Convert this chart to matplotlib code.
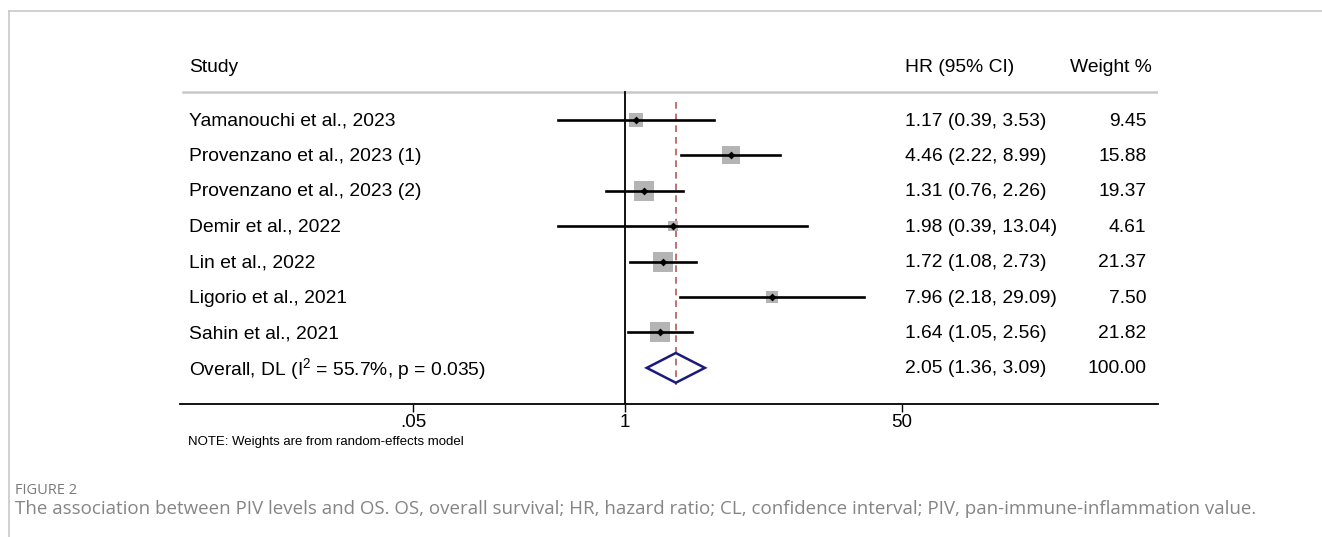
import numpy as np
import matplotlib
matplotlib.use('Agg')
import matplotlib.pyplot as plt
from matplotlib.lines import Line2D
from matplotlib.patches import Polygon

plt.rcParams['font.family'] = 'Liberation Sans'
plt.rcParams['mathtext.fontset'] = 'custom'
plt.rcParams['mathtext.rm'] = 'Liberation Sans'
plt.rcParams['mathtext.it'] = 'Liberation Sans'

# Dados do forest plot
estudos = ['Yamanouchi et al., 2023', 'Provenzano et al., 2023 (1)', 'Provenzano et al., 2023 (2)',
           'Demir et al., 2022', 'Lin et al., 2022', 'Ligorio et al., 2021', 'Sahin et al., 2021']
hr = [1.17, 4.46, 1.31, 1.98, 1.72, 7.96, 1.64]
ic_inf = [0.39, 2.22, 0.76, 0.39, 1.08, 2.18, 1.05]
ic_sup = [3.53, 8.99, 2.26, 13.04, 2.73, 29.09, 2.56]
pesos = [9.45, 15.88, 19.37, 4.61, 21.37, 7.50, 21.82]

overall_label = 'Overall, DL (I$^2$ = 55.7%, p = 0.035)'
overall_hr, overall_inf, overall_sup, overall_peso = 2.05, 1.36, 3.09, 100.00

ticks = [0.05, 1, 50]
tick_labels = ['.05', '1', '50']

W, H = 1322, 537
fig = plt.figure(figsize=(W / 100, H / 100), dpi=100)

# eixo em pixels: x 180..1158, y 30..404
ax = fig.add_axes([180 / W, (H - 404) / H, 978 / W, (404 - 30) / H])
ax.set_xscale('log')
ax.set_xlim(10 ** ((180 - 625) / 163.0), 10 ** ((1158 - 625) / 163.0))
ax.set_ylim(8.02, -2.54)
for s in ['top', 'left', 'right']:
    ax.spines[s].set_visible(False)
ax.spines['bottom'].set_linewidth(1.3)
ax.set_yticks([])
ax.set_xticks(ticks)
ax.set_xticklabels(tick_labels, fontsize=13.5)
ax.minorticks_off()
ax.tick_params(axis='x', length=6, width=1, pad=1)

fs = 13.9
n = len(estudos)
y = np.arange(n)
tr = ax.get_yaxis_transform()
dy = 0.03  # pequeno ajuste vertical do texto

# cabeçalho
ax.text(0.0092, -1.52 + dy, 'Study', transform=tr, fontsize=fs, va='center')
ax.text(0.741, -1.52 + dy, 'HR (95% CI)', transform=tr, fontsize=fs, va='center')
ax.text(0.994, -1.52 + dy, 'Weight %', transform=tr, fontsize=fs, va='center', ha='right')
ax.plot([0.003, 1.0], [-0.79, -0.79], transform=tr, color='#c8c8c8', lw=1.8)

# linha de nulidade e linha do efeito global
ax.plot([1, 1], [-0.79, 8.02], color='black', lw=1.3)
ax.plot([overall_hr, overall_hr], [-0.51, 7.49], color='#b05a5a', lw=1.2, ls=(0, (4, 3)))

# estudos
for i in range(n):
    ax.plot([ic_inf[i], ic_sup[i]], [y[i], y[i]], color='black', lw=1.9, zorder=3)
    lado = 4.4 * np.sqrt(pesos[i]) * 0.72
    ax.scatter([hr[i]], [y[i]], marker='s', s=lado ** 2, color='#b4b4b4', zorder=2, linewidths=0)
    ax.scatter([hr[i]], [y[i]], marker='D', s=16, color='black', zorder=4, linewidths=0)
    ax.text(0.0092, y[i] + dy, estudos[i], transform=tr, fontsize=fs, va='center')
    ax.text(0.741, y[i] + dy, f'{hr[i]:.2f} ({ic_inf[i]:.2f}, {ic_sup[i]:.2f})',
            transform=tr, fontsize=fs, va='center')
    ax.text(0.988, y[i] + dy, f'{pesos[i]:.2f}', transform=tr, fontsize=fs, va='center', ha='right')

# diamante global
yo = n
diamante = Polygon([[overall_inf, yo], [overall_hr, yo - 0.42], [overall_sup, yo], [overall_hr, yo + 0.42]],
                   closed=True, fill=False, edgecolor='#1a1a7a', lw=1.8, zorder=3)
ax.add_patch(diamante)
ax.text(0.0092, yo + dy, overall_label, transform=tr, fontsize=fs, va='center')
ax.text(0.741, yo + dy, f'{overall_hr:.2f} ({overall_inf:.2f}, {overall_sup:.2f})',
        transform=tr, fontsize=fs, va='center')
ax.text(0.988, yo + dy, f'{overall_peso:.2f}', transform=tr, fontsize=fs, va='center', ha='right')

# nota
fig.text(188 / W, 1 - 442 / H, 'NOTE: Weights are from random-effects model', fontsize=9.5, va='center')

# moldura da figura
fig.add_artist(Line2D([9 / W, 1], [1 - 11 / H, 1 - 11 / H], transform=fig.transFigure, color='#c8c8c8', lw=1.2))
fig.add_artist(Line2D([9 / W, 9 / W], [0, 1 - 11 / H], transform=fig.transFigure, color='#c8c8c8', lw=1.2))

# legenda da figura
fig.text(15 / W, 1 - 490 / H, 'FIGURE 2', fontsize=10.5, color='#7a7a7a', va='center', family='Open Sans')
fig.text(15 / W, 1 - 509 / H,
         'The association between PIV levels and OS. OS, overall survival; HR, hazard ratio; CL, '
         'confidence interval; PIV, pan-immune-inflammation value.',
         fontsize=13.5, color='#858585', va='center', family='Open Sans')

fig.savefig('out.png', dpi=100)
